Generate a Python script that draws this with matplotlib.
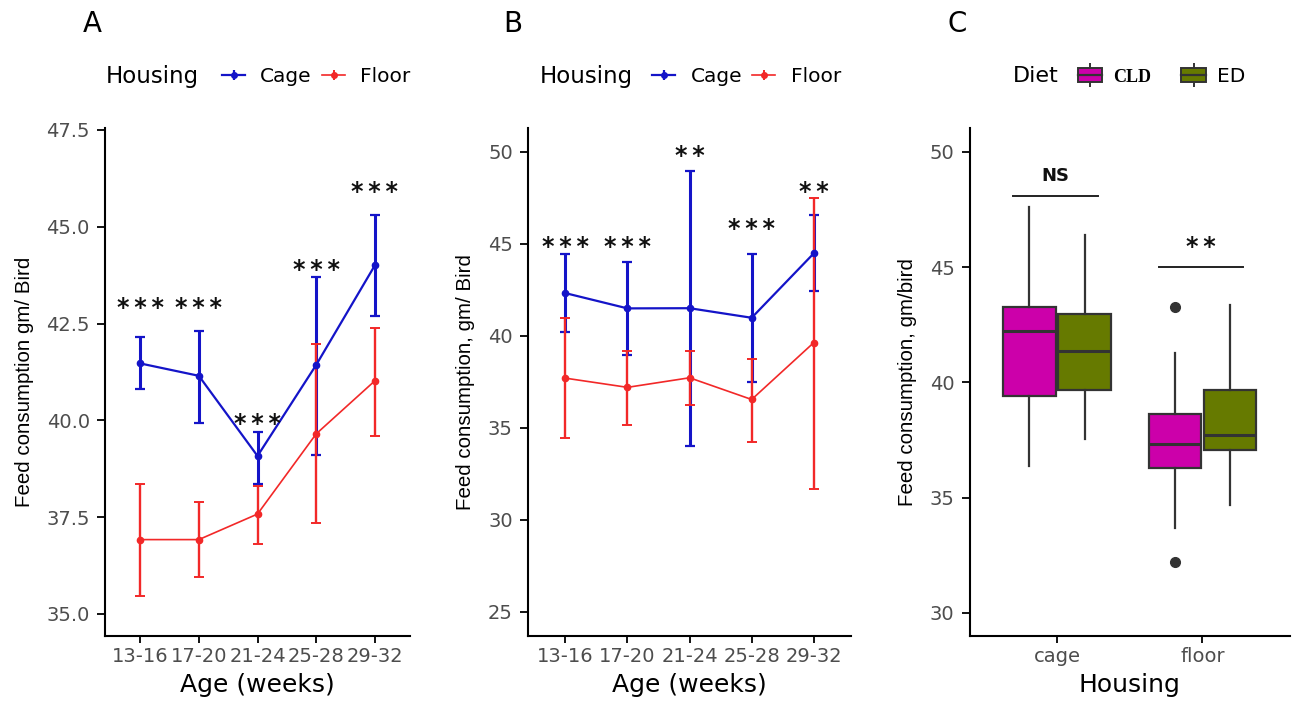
import matplotlib.pyplot as plt
from matplotlib.lines import Line2D
from matplotlib.patches import Patch

plt.rcParams['font.family'] = ['DejaVu Sans']

ages = ['13-16', '17-20', '21-24', '25-28', '29-32']

# panel A
a_cage = [41.47, 41.15, 39.08, 41.43, 44.0]
a_cage_lo = [40.81, 39.94, 38.35, 39.11, 42.7]
a_cage_hi = [42.14, 42.3, 39.7, 43.7, 45.3]
a_floor = [36.92, 36.92, 37.58, 39.65, 41.02]
a_floor_lo = [35.46, 35.95, 36.8, 37.36, 39.6]
a_floor_hi = [38.35, 37.9, 38.3, 41.96, 42.38]
a_stars = ['***', '***', '***', '***', '***']
a_star_y = [43.1, 43.1, 40.1, 44.07, 46.1]

# panel B
b_cage = [42.32, 41.49, 41.5, 40.98, 44.48]
b_cage_lo = [40.23, 38.98, 34.0, 37.47, 42.43]
b_cage_hi = [44.42, 44.0, 48.96, 44.42, 46.56]
b_floor = [37.7, 37.2, 37.72, 36.54, 39.63]
b_floor_lo = [34.44, 35.17, 36.24, 34.21, 31.68]
b_floor_hi = [40.95, 39.15, 39.15, 38.73, 47.49]
b_stars = ['***', '***', '**', '***', '**']
b_star_y = [45.25, 45.25, 50.2, 46.2, 48.24]

# panel C: boxplot summaries (whislo, q1, med, q3, whishi)
housing = ['cage', 'floor']
diets = ['CLD', 'ED']
cage_cld = [36.38, 39.4, 42.24, 43.26, 47.63]
cage_ed = [37.56, 39.69, 41.38, 42.99, 46.39]
floor_cld = [33.7, 36.28, 37.34, 38.65, 41.28]
floor_ed = [34.7, 37.07, 37.7, 39.67, 43.35]
floor_cld_out = [43.28, 32.22]
c_sig = ['NS', '**']
c_sig_y = [48.94, 46.2]
c_sig_line = [48.07, 45.03]

blue = '#1414C8'
red = '#F22828'
magenta = '#CC00AA'
olive = '#667A00'
tick_col = '#4D4D4D'
dark = '#333333'

fig = plt.figure(figsize=(12.93, 7.01), dpi=100)
axA = fig.add_axes([0.0812, 0.0927, 0.2359, 0.7247])
axB = fig.add_axes([0.4084, 0.0927, 0.2498, 0.7247])
axC = fig.add_axes([0.750, 0.0927, 0.2475, 0.7247])


def style(ax):
    for s in ['top', 'right']:
        ax.spines[s].set_visible(False)
    for s in ['left', 'bottom']:
        ax.spines[s].set_linewidth(1.5)
    ax.tick_params(width=1.3, colors='black', labelcolor=tick_col, labelsize=14)
    ax.tick_params(axis='y', length=6, pad=5)
    ax.tick_params(axis='x', length=5, pad=3)


def stars(ax, x, s, y):
    # asterisks with a thin gap, as in the original
    ax.annotate('\u2009'.join(s), (x, y), xytext=(0, -5.5), textcoords='offset points',
                ha='center', va='center', fontsize=17, fontweight='bold', color='#111111')


def line_panel(ax, cage, clo, chi, floor, flo, fhi, st, sy, ylab):
    x = list(range(1, len(ages) + 1))
    ax.errorbar(x, cage, yerr=[[c - l for c, l in zip(cage, clo)], [h - c for c, h in zip(cage, chi)]],
                color=blue, lw=1.6, marker='o', ms=4.5, capsize=3.5, elinewidth=2.2, capthick=1.6)
    ax.errorbar(x, floor, yerr=[[c - l for c, l in zip(floor, flo)], [h - c for c, h in zip(floor, fhi)]],
                color=red, lw=1.2, marker='o', ms=4.5, capsize=3.5, elinewidth=1.7, capthick=1.4)
    for xi, s, y in zip(x, st, sy):
        stars(ax, xi, s, y)
    ax.set_xticks(x)
    ax.set_xticklabels(ages)
    ax.set_xlim(0.4, 5.6)
    ax.set_xlabel('Age (weeks)', fontsize=18, labelpad=5)
    ax.set_ylabel(ylab, fontsize=14.8, labelpad=9, family=['Liberation Sans', 'DejaVu Sans'])
    style(ax)


line_panel(axA, a_cage, a_cage_lo, a_cage_hi, a_floor, a_floor_lo, a_floor_hi,
           a_stars, a_star_y, 'Feed consumption gm/ Bird')
axA.set_ylim(34.43, 47.55)
axA.set_yticks([35.0, 37.5, 40.0, 42.5, 45.0, 47.5])
axA.set_yticklabels(['35.0', '37.5', '40.0', '42.5', '45.0', '47.5'])

line_panel(axB, b_cage, b_cage_lo, b_cage_hi, b_floor, b_floor_lo, b_floor_hi,
           b_stars, b_star_y, 'Feed consumption, gm/ Bird')
axB.set_ylim(23.69, 51.29)
axB.set_yticks([25, 30, 35, 40, 45, 50])

# panel C boxplot
stats = []
pos = []
cols = []
for i, (h, boxes) in enumerate(zip(housing, [[cage_cld, cage_ed], [floor_cld, floor_ed]])):
    for j, b in enumerate(boxes):
        fl = floor_cld_out if (h == 'floor' and j == 0) else []
        stats.append(dict(whislo=b[0], q1=b[1], med=b[2], q3=b[3], whishi=b[4], fliers=fl))
        pos.append(i + 1 + (-0.19 if j == 0 else 0.19))
        cols.append(magenta if j == 0 else olive)
bp = axC.bxp(stats, positions=pos, widths=0.36, patch_artist=True, showcaps=False,
             boxprops=dict(edgecolor=dark, linewidth=1.6),
             medianprops=dict(color=dark, linewidth=2.2),
             whiskerprops=dict(color=dark, linewidth=1.6),
             flierprops=dict(marker='o', markerfacecolor=dark, markeredgecolor=dark, markersize=7))
for patch, c in zip(bp['boxes'], cols):
    patch.set_facecolor(c)
for i, (s, sy, ly) in enumerate(zip(c_sig, c_sig_y, c_sig_line)):
    axC.plot([i + 1 - 0.3, i + 1 + 0.28], [ly, ly], color='#222222', lw=1.4)
    if s == 'NS':
        axC.text(i + 1 - 0.01, sy, s, ha='center', va='center', fontsize=13,
                 fontweight='bold', color='#111111')
    else:
        stars(axC, i + 1 - 0.01, s, sy)
axC.set_xticks([1, 2])
axC.set_xticklabels(housing)
axC.set_xlim(0.4, 2.6)
axC.set_ylim(29.0, 51.04)
axC.set_yticks([30, 35, 40, 45, 50])
axC.set_xlabel('Housing', fontsize=18, labelpad=5)
axC.set_ylabel('Feed consumption, gm/bird', fontsize=14.8, labelpad=9,
               family=['Liberation Sans', 'DejaVu Sans'])
style(axC)

# panel letters
fig.text(0.064, 0.966, 'A', fontsize=20, va='center')
fig.text(0.389, 0.966, 'B', fontsize=20, va='center')
fig.text(0.733, 0.966, 'C', fontsize=20, va='center')

# legends
h_handles = [(Line2D([], [], color=blue, lw=1.6, marker='o', ms=4), Line2D([], [], color=blue, lw=0, marker='|', ms=7, mew=1.6)),
             (Line2D([], [], color=red, lw=1.2, marker='o', ms=4), Line2D([], [], color=red, lw=0, marker='|', ms=7, mew=1.4))]
for tx, lx in [(0.082, 0.1717), (0.4176, 0.5045)]:
    fig.text(tx, 0.891, 'Housing', fontsize=16.5, va='center')
    fig.legend(h_handles, ['Cage', 'Floor'], ncol=2, frameon=False, loc='center left',
               bbox_to_anchor=(lx, 0.891), fontsize=14.5,
               handlelength=1.15, handletextpad=0.75, columnspacing=0.5, borderaxespad=0, borderpad=0)

fig.text(0.7835, 0.891, 'Diet', fontsize=16, va='center')
d_handles = [(Line2D([], [], color=dark, lw=0, marker='|', ms=17, mew=1.4),
              Patch(facecolor=c, edgecolor=dark, lw=1.4),
              Line2D([], [], color=dark, lw=1.6)) for c in [magenta, olive]]
leg = fig.legend(d_handles, diets, ncol=2, frameon=False, loc='center left',
                 bbox_to_anchor=(0.8337, 0.891), fontsize=14.5, handlelength=1.2, handleheight=0.75,
                 handletextpad=0.55, columnspacing=1.5, borderaxespad=0, borderpad=0)
leg.get_texts()[0].set_family(['Liberation Serif', 'DejaVu Serif'])
leg.get_texts()[0].set_fontweight('bold')
leg.get_texts()[0].set_fontsize(13)

fig.savefig('out.png', dpi=100)
